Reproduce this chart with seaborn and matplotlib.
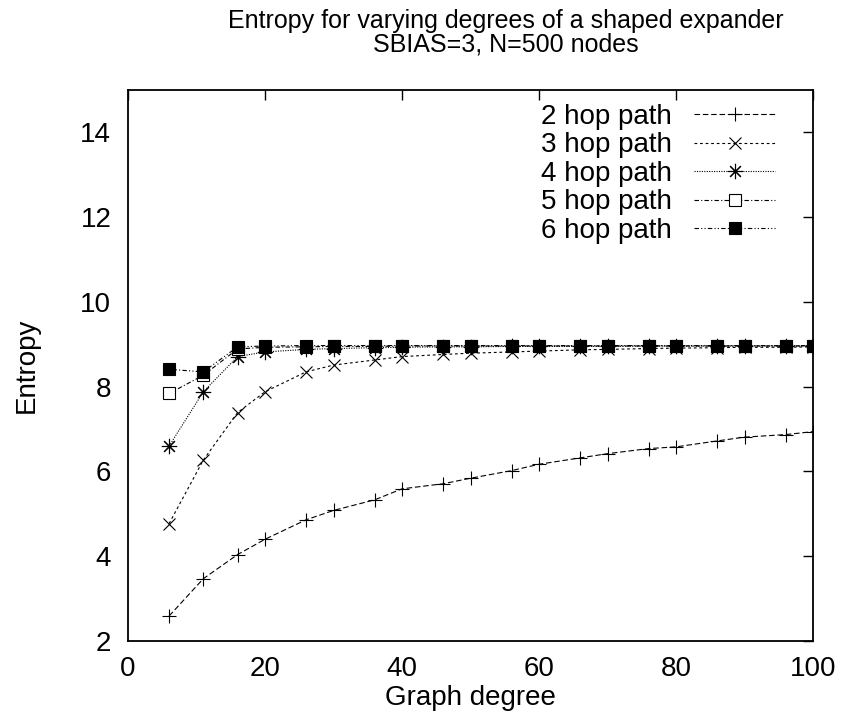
import matplotlib
matplotlib.use('Agg')
import matplotlib.pyplot as plt
import seaborn as sns
import pandas as pd

# Data
degrees = [6, 11, 16, 20, 26, 30, 36, 40, 46, 50, 56, 60, 66, 70, 76, 80, 86, 90, 96, 100]
hop2 = [2.59, 3.47, 4.04, 4.40, 4.86, 5.08, 5.33, 5.59, 5.71, 5.84,
        6.02, 6.17, 6.32, 6.42, 6.54, 6.58, 6.72, 6.81, 6.87, 6.94]
hop3 = [4.77, 6.27, 7.39, 7.88, 8.35, 8.51, 8.63, 8.71, 8.76, 8.79,
        8.82, 8.84, 8.87, 8.88, 8.90, 8.91, 8.92, 8.93, 8.93, 8.94]
hop4 = [6.60, 7.88, 8.71, 8.82, 8.88, 8.90, 8.92, 8.93, 8.94, 8.94,
        8.95, 8.95, 8.95, 8.95, 8.96, 8.96, 8.96, 8.96, 8.96, 8.96]
hop5 = [7.84, 8.27, 8.89, 8.93, 8.94, 8.95, 8.95, 8.96, 8.96, 8.96,
        8.96, 8.96, 8.96, 8.96, 8.96, 8.96, 8.96, 8.96, 8.96, 8.96]
hop6 = [8.41, 8.35, 8.94, 8.96, 8.97, 8.97, 8.97, 8.97, 8.97, 8.97,
        8.97, 8.97, 8.97, 8.97, 8.97, 8.97, 8.97, 8.97, 8.97, 8.97]
labels = ['2 hop path', '3 hop path', '4 hop path', '5 hop path', '6 hop path']

df = pd.concat([pd.DataFrame({'degree': degrees, 'entropy': v, 'series': lab})
                for lab, v in zip(labels, [hop2, hop3, hop4, hop5, hop6])])

sns.set_style('white')
plt.rcParams['font.family'] = ['Liberation Sans', 'DejaVu Sans']
plt.rcParams['text.color'] = 'black'
plt.rcParams['axes.labelcolor'] = 'black'
plt.rcParams['xtick.color'] = 'black'
plt.rcParams['ytick.color'] = 'black'

# gnuplot-like line and point styles
styles = {
    '2 hop path': dict(linestyle=(0, (5, 2.5)), marker='+', markersize=9.5, markerfacecolor='black'),
    '3 hop path': dict(linestyle=(0, (2.5, 2.5)), marker='x', markersize=8.5, markerfacecolor='black'),
    '4 hop path': dict(linestyle=(0, (1, 1.2)), marker=(8, 2, 0), markersize=11, markerfacecolor='black'),
    '5 hop path': dict(linestyle=(0, (4, 2, 1, 2)), marker='s', markersize=8.5, markerfacecolor='white'),
    '6 hop path': dict(linestyle=(0, (4, 2, 1, 2, 1, 2)), marker='s', markersize=8.5, markerfacecolor='black'),
}

fig = plt.figure(figsize=(8.42, 7.16), dpi=100)
ax = fig.add_axes([128 / 842, 1 - 641 / 716, (813 - 128) / 842, (641 - 90) / 716])

for lab in labels:
    sub = df[df['series'] == lab]
    sns.lineplot(data=sub, x='degree', y='entropy', ax=ax, color='black', linewidth=0.8,
                 markeredgecolor='black', markeredgewidth=0.8, label=lab, **styles[lab])

ax.set_xlim(0, 100)
ax.set_ylim(2, 15)
ax.set_xticks(range(0, 101, 20))
ax.set_yticks(range(2, 15, 2))
ax.tick_params(direction='in', top=True, right=True, length=7, width=1.0,
               labelsize=20, color='black', labelcolor='black')
ax.tick_params(axis='x', pad=11)
ax.tick_params(axis='y', pad=12)
for sp in ax.spines.values():
    sp.set_linewidth(1.3)
    sp.set_color('black')

ax.set_xlabel('Graph degree', fontsize=20, labelpad=2)
ax.set_ylabel('Entropy', fontsize=20, labelpad=29)

leg = ax.legend(loc='upper right', bbox_to_anchor=(0.9445, 0.975), frameon=False,
                markerfirst=False, fontsize=20, handlelength=2.9, handletextpad=0.8,
                labelspacing=0.09, borderpad=0, borderaxespad=0)

fig.text(506 / 842, 1 - 33 / 716,
         'Entropy for varying degrees of a shaped expander\nSBIAS=3, N=500 nodes',
         ha='center', va='center', fontsize=18, linespacing=0.95, color='black',
         family=['Liberation Sans Narrow', 'Liberation Sans', 'DejaVu Sans'])

fig.savefig('out.png', dpi=100)
